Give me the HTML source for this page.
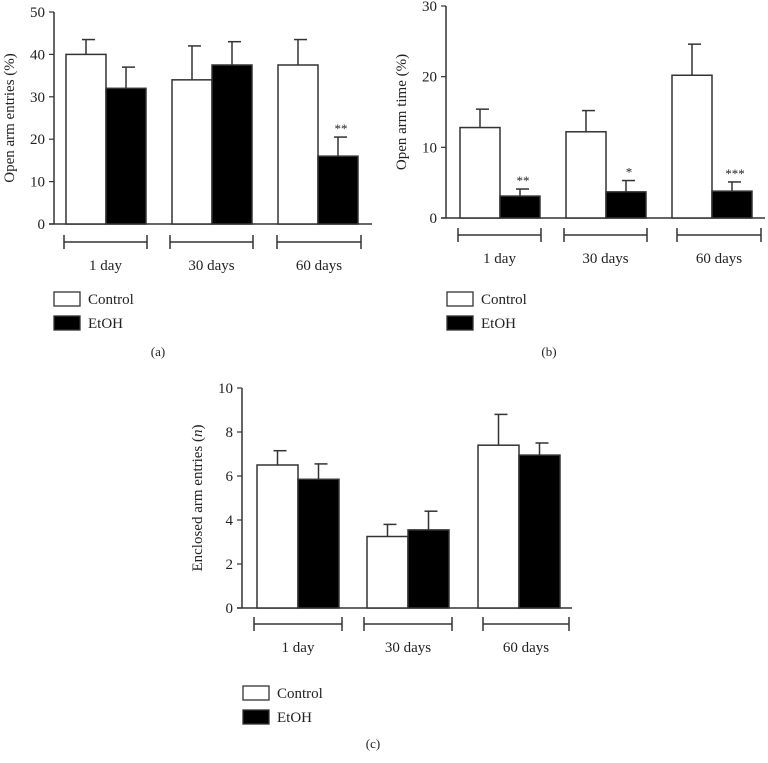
<!DOCTYPE html>
<html><head><meta charset="utf-8"><style>
body{margin:0;background:#fff;width:768px;height:758px;overflow:hidden}
svg text{font-family:"Liberation Serif",serif;fill:#222}
</style></head><body>
<svg id="s" width="768" height="758" viewBox="0 0 768 758"></svg>
<script>
const categories=["1 day","30 days","60 days"];
const aControl=[40,34,37.5], aControlErr=[43.5,42,43.5];
const aEtoh=[32,37.5,16], aEtohErr=[37,43,20.5];
const aSig=["","","**"];
const aTicks=[0,10,20,30,40,50];
const bControl=[12.8,12.2,20.2], bControlErr=[15.4,15.2,24.6];
const bEtoh=[3.1,3.7,3.8], bEtohErr=[4.1,5.3,5.1];
const bSig=["**","*","***"];
const bTicks=[0,10,20,30];
const cControl=[6.5,3.25,7.4], cControlErr=[7.15,3.8,8.8];
const cEtoh=[5.85,3.55,6.95], cEtohErr=[6.55,4.4,7.5];
const cSig=["","",""];
const cTicks=[0,2,4,6,8,10];

const svg=document.getElementById('s');
const NS='http://www.w3.org/2000/svg';
function el(t,a,txt,parent){const e=document.createElementNS(NS,t);for(const k in a)e.setAttribute(k,a[k]);if(txt!==undefined)e.textContent=txt;(parent||svg).appendChild(e);return e;}

function panel(p){
  const g=el('g',{});
  
  
  const max=p.ticks[p.ticks.length-1];
  const y=v=>p.y0-(v/max)*(p.y0-p.yTop);
  const ax=el('line',{x1:p.ax,y1:p.yTop,x2:p.ax,y2:p.y0,stroke:'#333','stroke-width':1.5},undefined,g);
  
  const xa=el('line',{x1:p.ax-5,y1:p.y0,x2:p.axEnd,y2:p.y0,stroke:'#333','stroke-width':1.5},undefined,g);
  
  p.ticks.forEach(t=>{
    el('line',{x1:p.ax-5,y1:y(t),x2:p.ax,y2:y(t),stroke:'#333','stroke-width':1.2},undefined,g);
    const tl=el('text',{x:p.ax-9,y:y(t)+5,'text-anchor':'end','font-size':15},String(t),g);
    
  });
  const yt=el('text',{transform:`translate(${p.ax-40},${(p.y0+p.yTop)/2}) rotate(-90)`,'text-anchor':'middle','font-size':15},'',g);
  yt.innerHTML=p.ylabel;
  
  const bw=p.bw;
  categories.forEach((c,i)=>{
    const x0=p.gx[i];
    const series=[[p.ctrl,p.ctrlErr,'#fff','control'],[p.etoh,p.etohErr,'#000','etoh']];
    series.forEach((s,j)=>{
      const bx=x0+j*bw, v=s[0][i], e=s[1][i];
      const cx=bx+bw/2;
      const eb=el('line',{x1:cx,y1:y(v),x2:cx,y2:y(e),stroke:'#333','stroke-width':1.5},undefined,g);
      
      el('line',{x1:cx-4,y1:y(e),x2:cx+9,y2:y(e),stroke:'#333','stroke-width':1.5},undefined,g);
      const r=el('rect',{x:bx,y:y(v),width:bw,height:p.y0-y(v),fill:s[2],stroke:'#333','stroke-width':1.5},undefined,g);
      
      if(j===1&&p.sig[i]){const st=el('text',{x:cx+3,y:y(e)-4,'text-anchor':'middle','font-size':13,fill:'#555'},p.sig[i],g);
        }
    });
    const bl=p.bx[i][0], br=p.bx[i][1];
    el('line',{x1:bl,y1:p.by,x2:br,y2:p.by,stroke:'#333','stroke-width':1.5},undefined,g);
    el('line',{x1:bl,y1:p.by-7,x2:bl,y2:p.by+7,stroke:'#333','stroke-width':1.5},undefined,g);
    el('line',{x1:br,y1:p.by-7,x2:br,y2:p.by+7,stroke:'#333','stroke-width':1.5},undefined,g);
    const lbl=el('text',{x:(bl+br)/2,y:p.by+28,'text-anchor':'middle','font-size':15},c,g);
    
  });
  [['Control','#fff',0],['EtOH','#000',24]].forEach(l=>{
    const lr=el('rect',{x:p.lx,y:p.ly+l[2],width:26,height:14,fill:l[1],stroke:'#333','stroke-width':1.3},undefined,g);
    
    const lt=el('text',{x:p.lx+34,y:p.ly+l[2]+12,'font-size':15},l[0],g);
    
  });
  const pl=el('text',{x:p.px,y:p.py,'text-anchor':'middle','font-size':13},p.plabel,g);
  
}
panel({name:'panel-a',ax:54,axEnd:372,y0:224,yTop:12,ticks:aTicks,ylabel:'Open arm entries (%)',bw:40,gx:[66,172,278],
  ctrl:aControl,ctrlErr:aControlErr,etoh:aEtoh,etohErr:aEtohErr,sig:aSig,bx:[[64,147],[170,253],[277,361]],by:242,lx:54,ly:292,px:158,py:356,plabel:'(a)'});
panel({name:'panel-b',ax:446,axEnd:765,y0:218,yTop:6,ticks:bTicks,ylabel:'Open arm time (%)',bw:40,gx:[460,566,672],
  ctrl:bControl,ctrlErr:bControlErr,etoh:bEtoh,etohErr:bEtohErr,sig:bSig,bx:[[458,541],[564,647],[677,761]],by:235,lx:447,ly:292,px:549,py:356,plabel:'(b)'});
panel({name:'panel-c',ax:242,axEnd:572,y0:608,yTop:388,ticks:cTicks,ylabel:'Enclosed arm entries (<tspan font-style="italic">n</tspan>)',bw:41,gx:[257,367,478],
  ctrl:cControl,ctrlErr:cControlErr,etoh:cEtoh,etohErr:cEtohErr,sig:cSig,bx:[[254,342],[364,452],[483,569]],by:624,lx:243,ly:686,px:373,py:748,plabel:'(c)'});
</script>
</body></html>
